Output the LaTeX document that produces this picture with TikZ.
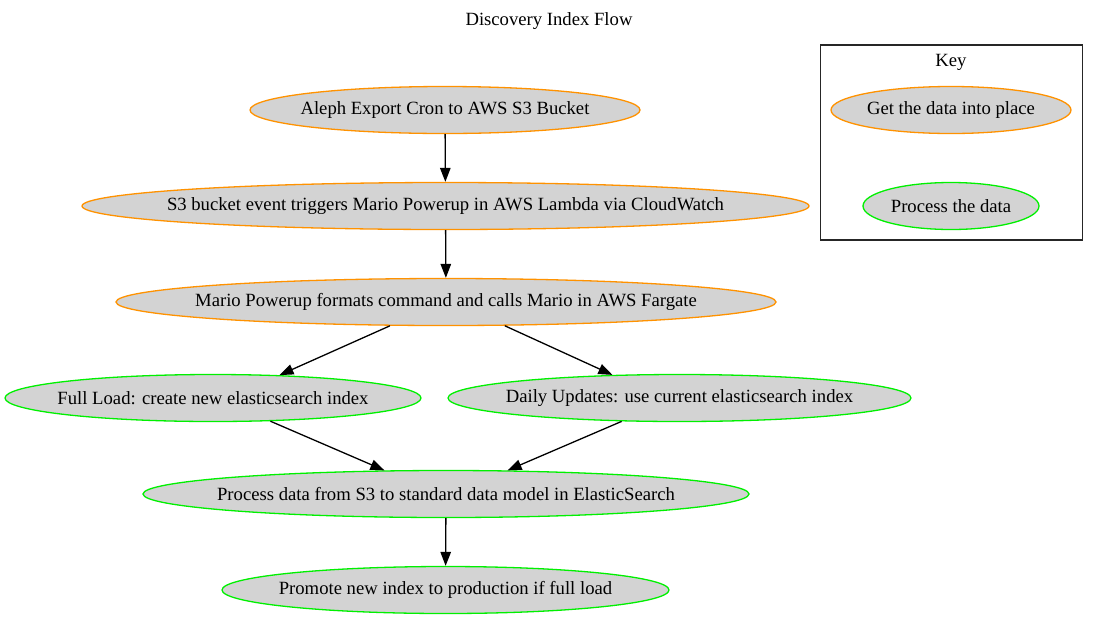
\documentclass[tikz,border=0pt]{standalone}
\usepackage{fontspec}
\setmainfont{Liberation Serif}
\usetikzlibrary{shapes.geometric,arrows.meta}
\definecolor{gvorange}{HTML}{FF9200}
\definecolor{gvgreen}{HTML}{00F000}
\definecolor{gvgray}{HTML}{D3D3D3}
\newcommand{\ztxt}[1]{\raisebox{-1.2pt}{\makebox[0pt]{#1}}}
\tikzset{
  gvfont/.style={font=\fontsize{18.67}{22}\selectfont},
  gv/.style={ellipse, fill=gvgray, inner sep=0pt, minimum height=47pt, line width=1.3pt, gvfont},
  getdata/.style={gv, draw=gvorange},
  procdata/.style={gv, draw=gvgreen},
  flow/.style={-{Triangle[length=14pt,width=10.5pt]}, line width=1.3pt, black},
}
\begin{document}
\begin{tikzpicture}[x=1pt,y=-1pt]
\useasboundingbox (0,0) rectangle (1098,619);
\node[gvfont] (title) at (549,21) {Discovery Index Flow};

\node[getdata, minimum width=390pt] (aleph) at (445,110) {\ztxt{Aleph Export Cron to AWS S3 Bucket}};
\node[getdata, minimum width=727pt] (s3) at (445.5,206) {\ztxt{S3 bucket event triggers Mario Powerup in AWS Lambda via CloudWatch}};
\node[getdata, minimum width=660pt] (mario) at (446,302) {\ztxt{Mario Powerup formats command and calls Mario in AWS Fargate}};
\node[procdata, minimum width=416pt] (full) at (213,398) {\ztxt{Full Load: create new elasticsearch index}};
\node[procdata, minimum width=463pt] (daily) at (679.5,398) {\ztxt{Daily Updates: use current elasticsearch index}};
\node[procdata, minimum width=606pt] (proc) at (446,494) {\ztxt{Process data from S3 to standard data model in ElasticSearch}};
\node[procdata, minimum width=447pt] (prom) at (445.5,590) {\ztxt{Promote new index to production if full load}};

\node[draw=black!85, line width=1.1pt, minimum width=262pt, minimum height=195pt, inner sep=0pt] (keybox) at (951.5,142.5) {};
\node[gvfont] (keylabel) at (951,62) {Key};
\node[getdata, minimum width=240pt] (k1) at (951,110) {\ztxt{Get the data into place}};
\node[procdata, minimum width=176pt] (k2) at (951,206) {\ztxt{Process the data}};

\draw[flow] (aleph) -- (s3);
\draw[flow] (s3) -- (mario);
\draw[flow] (mario.-157.7) -- (full.19.3);
\draw[flow] (mario.-22) -- (daily.161.4);
\draw[flow] (full.-22) -- (proc.159.3);
\draw[flow] (daily.-158.2) -- (proc.21.3);
\draw[flow] (proc) -- (prom);
\end{tikzpicture}
\end{document}
